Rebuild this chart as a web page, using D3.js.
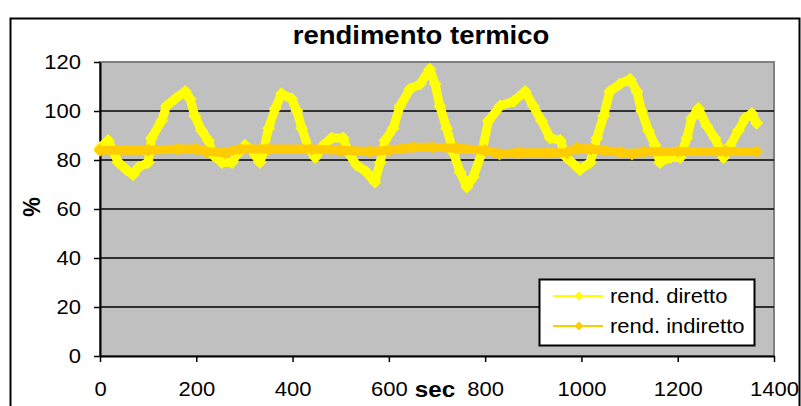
<!DOCTYPE html>
<html>
<head>
<meta charset="utf-8">
<script src="https://cdn.jsdelivr.net/npm/d3@7"></script>
<style>
  body { margin: 0; background: #fff; }
  text { font-family: "Liberation Sans", Arial, sans-serif; }
</style>
</head>
<body>
<svg id="chart" width="801" height="406"></svg>
<script>
// rend. diretto (yellow) - seconds and %
const secDiretto = [0, 17, 38, 55, 69, 80, 100, 107, 128, 138, 156, 177, 187, 197, 211, 225, 235, 253, 274, 287,
    301, 315, 332, 339, 350, 364, 377, 398, 409, 419, 433, 447, 464, 481, 505, 516, 533, 554, 571, 582,
    592, 609, 623, 644, 665, 685, 696, 706, 720, 734, 748, 762, 775, 793, 807, 831, 859, 883, 900, 917,
    935, 956, 969, 997, 1018, 1032, 1046, 1059, 1080, 1101, 1115, 1125, 1139, 1153, 1163, 1184, 1205, 1219, 1229, 1243,
    1260, 1277, 1295, 1309, 1326, 1340, 1354, 1364];
const rendDiretto = [85, 88, 79, 76, 74, 77, 79, 89, 96, 102, 105, 108, 105, 98, 92, 88, 82, 79, 79, 83,
    86, 84, 79, 83, 93, 101, 107, 105, 100, 93, 85, 81, 86, 89, 89, 83, 78, 75, 71, 79,
    88, 93, 102, 109, 111, 117, 111, 102, 93, 83, 75, 69, 73, 83, 96, 102, 104, 108, 102, 96,
    89, 88, 81, 76, 79, 89, 98, 108, 111, 113, 108, 100, 92, 86, 79, 81, 81, 89, 97, 101,
    94, 89, 81, 86, 92, 97, 99, 95];

// rend. indiretto (orange)
const secIndiretto = [0, 100, 160, 200, 220, 260, 290, 350, 440, 500, 560, 600, 650, 690, 740, 800, 830, 870, 930, 970,
    990, 1020, 1080, 1105, 1130, 1200, 1300, 1364];
const rendIndiretto = [84, 84, 84.5, 84.5, 83.5, 83, 84.5, 84.5, 84.5, 84, 83.5, 84, 85.2, 85.2, 84.8, 84, 82.5, 83, 83, 83,
    84.8, 84.5, 83.2, 82.5, 83.4, 83.5, 83.5, 83.5];

const xTicks = [0, 200, 400, 600, 800, 1000, 1200, 1400];
const yTicks = [0, 20, 40, 60, 80, 100, 120];

const series = [
    { name: "rend. diretto", color: "#FFFF00", values: secDiretto.map((s, i) => ({ s: s, v: rendDiretto[i] })) },
    { name: "rend. indiretto", color: "#FFCC00", values: secIndiretto.map((s, i) => ({ s: s, v: rendIndiretto[i] })) }
];

const svg = d3.select("#chart");
const plotL = 100, plotR = 774, plotT = 62, plotB = 356;
const stretch = "scale(1.1,1)";

// outer border
svg.append("rect")
    .attr("x", 10.5).attr("y", 18.5)
    .attr("width", 789).attr("height", 420)
    .attr("fill", "#fff")
    .attr("stroke", "#000")
    .attr("stroke-width", 2);

const x = d3.scaleLinear().domain([0, 1400]).range([plotL, plotR]);
const y = d3.scaleLinear().domain([0, 120]).range([plotB, plotT]);

// plot area
svg.append("rect")
    .attr("x", plotL).attr("y", plotT)
    .attr("width", plotR - plotL).attr("height", plotB - plotT)
    .attr("fill", "#C0C0C0")
    .attr("stroke", "#808080")
    .attr("stroke-width", 2);

// gridlines
svg.append("g")
    .selectAll("line")
    .data(yTicks.filter(d => d > 0 && d < 120))
    .join("line")
    .attr("x1", plotL).attr("x2", plotR)
    .attr("y1", d => y(d)).attr("y2", d => y(d))
    .attr("stroke", "#000")
    .attr("stroke-width", 1.5);

// axes
const yAxis = svg.append("g")
    .attr("transform", `translate(${plotL},0)`)
    .call(d3.axisLeft(y).tickValues(yTicks).tickFormat(d3.format("d")).tickSize(6).tickSizeOuter(0));
yAxis.select(".domain").attr("stroke-width", 2);
yAxis.selectAll(".tick line").attr("stroke-width", 1.5);
yAxis.selectAll(".tick text")
    .attr("x", -19 / 1.1)
    .attr("transform", stretch)
    .style("font-size", "20px")
    .attr("fill", "#000");

const xAxis = svg.append("g")
    .attr("transform", `translate(0,${plotB})`)
    .call(d3.axisBottom(x).tickValues(xTicks).tickFormat(d3.format("d")).tickSize(6).tickSizeOuter(0));
xAxis.select(".domain").attr("stroke-width", 2);
xAxis.selectAll(".tick line").attr("stroke-width", 1.5);
xAxis.selectAll(".tick text")
    .attr("y", 40)
    .attr("dy", 0)
    .attr("transform", stretch)
    .style("font-size", "20px")
    .attr("fill", "#000");

// series
const line = d3.line()
    .x(d => x(d.s))
    .y(d => y(d.v));

const diamond = r => `M0,${-r}L${r},0L0,${r}L${-r},0Z`;

series.forEach(ser => {
    svg.append("path")
        .datum(ser.values)
        .attr("d", line)
        .attr("fill", "none")
        .attr("stroke", ser.color)
        .attr("stroke-width", 9)
        .attr("stroke-linejoin", "round")
        .attr("stroke-linecap", "round");

    svg.append("g")
        .selectAll("path")
        .data(ser.values)
        .join("path")
        .attr("d", diamond(6.5))
        .attr("transform", d => `translate(${x(d.s)},${y(d.v)})`)
        .attr("fill", ser.color);
});

// title
svg.append("text")
    .attr("transform", "translate(421,44) scale(1.1,1)")
    .attr("text-anchor", "middle")
    .style("font-size", "25px")
    .style("font-weight", "bold")
    .text("rendimento termico");

// axis titles
svg.append("text")
    .attr("transform", "translate(435,397) scale(1.1,1)")
    .attr("text-anchor", "middle")
    .style("font-size", "22px")
    .style("font-weight", "bold")
    .text("sec");

svg.append("text")
    .attr("transform", "translate(40,207) rotate(-90) scale(1,1.1)")
    .attr("text-anchor", "middle")
    .style("font-size", "22px")
    .style("font-weight", "bold")
    .text("%");

// legend
const legend = svg.append("g");
legend.append("rect")
    .attr("x", 539.5).attr("y", 279.5)
    .attr("width", 215).attr("height", 66)
    .attr("fill", "#fff")
    .attr("stroke", "#000")
    .attr("stroke-width", 2);

series.forEach((ser, i) => {
    const cy = 296 + i * 30;
    legend.append("line")
        .attr("x1", 553).attr("x2", 603)
        .attr("y1", cy).attr("y2", cy)
        .attr("stroke", ser.color)
        .attr("stroke-width", 2);
    legend.append("path")
        .attr("d", diamond(4.5))
        .attr("transform", `translate(579,${cy})`)
        .attr("fill", ser.color);
    legend.append("text")
        .attr("transform", `translate(610,${cy + 7}) scale(1.1,1)`)
        .style("font-size", "20px")
        .text(ser.name);
});
</script>
</body>
</html>
